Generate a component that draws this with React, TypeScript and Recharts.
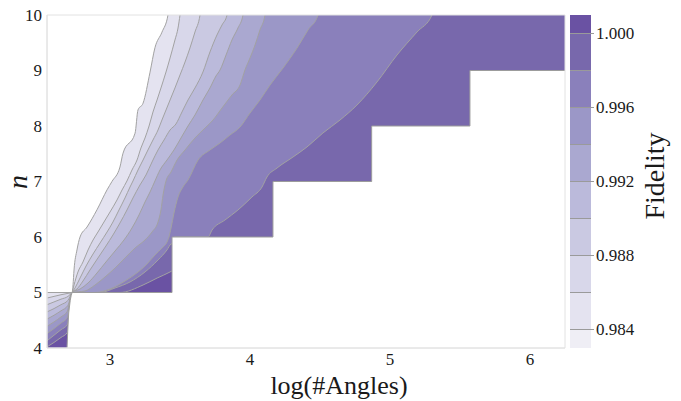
import React from 'react';
import { ComposedChart, Area, XAxis, YAxis, ReferenceArea, ReferenceLine, Label } from 'recharts';

// ---- axes ----
const xDomain: [number, number] = [2.55, 6.25];
const nDomain: [number, number] = [4, 10];
const xTicks = [3, 4, 5, 6];
const nTicks = [4, 5, 6, 7, 8, 9, 10];
const nAbove = 10.4; // contour continues past the top edge

// ---- contour lines  [log(#Angles), n] ----
const c0984: [number, number][] = [[2.55,5.0],[2.729,5.0],[2.736,5.14],[2.743,5.405],[2.764,5.766],[2.786,6.0],[2.836,6.18],[2.907,6.49],[2.979,6.85],[3.014,7.0],[3.071,7.26],[3.093,7.51],[3.179,7.87],[3.2,8.29],[3.236,8.41],[3.286,8.97],[3.321,9.41],[3.371,9.69],[3.414,10.0]];
const c0986: [number, number][] = [[2.55,4.9],[2.6,4.93],[2.65,4.96],[2.7,4.985],[2.729,5.0],[2.743,5.135],[2.771,5.369],[2.807,5.55],[2.843,5.766],[2.879,5.946],[2.914,6.09],[2.957,6.27],[3.0,6.45],[3.05,6.667],[3.086,6.847],[3.121,7.009],[3.157,7.207],[3.193,7.387],[3.221,7.604],[3.25,7.784],[3.279,8.0],[3.307,8.252],[3.336,8.468],[3.364,8.685],[3.4,8.973],[3.429,9.225],[3.464,9.55],[3.486,9.766],[3.5,10.0]];
const c0988: [number, number][] = [[2.55,4.78],[2.6,4.83],[2.65,4.88],[2.7,4.93],[2.729,5.0],[2.75,5.081],[2.786,5.261],[2.829,5.477],[2.879,5.694],[2.929,5.892],[2.979,6.09],[3.021,6.27],[3.064,6.486],[3.107,6.703],[3.143,6.901],[3.164,7.009],[3.2,7.207],[3.236,7.387],[3.271,7.568],[3.307,7.748],[3.343,7.928],[3.371,8.108],[3.4,8.288],[3.429,8.468],[3.464,8.685],[3.5,8.919],[3.536,9.153],[3.571,9.405],[3.607,9.694],[3.643,10.0]];
const c0990: [number, number][] = [[2.55,4.65],[2.6,4.71],[2.65,4.78],[2.7,4.86],[2.729,5.0],[2.764,5.063],[2.807,5.207],[2.857,5.405],[2.914,5.622],[2.971,5.838],[3.021,6.036],[3.071,6.252],[3.121,6.486],[3.164,6.703],[3.214,6.937],[3.257,7.117],[3.3,7.351],[3.343,7.568],[3.386,7.748],[3.429,7.928],[3.471,8.036],[3.514,8.252],[3.557,8.468],[3.607,8.685],[3.664,8.973],[3.714,9.333],[3.764,9.64],[3.8,9.82],[3.836,10.0]];
const c0992: [number, number][] = [[2.55,4.52],[2.6,4.59],[2.65,4.67],[2.7,4.77],[2.729,5.0],[2.786,5.063],[2.843,5.171],[2.907,5.351],[2.971,5.55],[3.036,5.748],[3.1,5.946],[3.157,6.162],[3.207,6.396],[3.25,6.631],[3.286,6.811],[3.321,7.009],[3.357,7.207],[3.407,7.387],[3.457,7.568],[3.507,7.784],[3.557,8.0],[3.607,8.198],[3.664,8.468],[3.714,8.685],[3.757,8.901],[3.786,9.009],[3.829,9.279],[3.871,9.55],[3.914,9.766],[3.95,10.0]];
const c0994: [number, number][] = [[2.55,4.39],[2.6,4.47],[2.65,4.56],[2.695,4.66],[2.729,5.0],[2.821,5.027],[2.893,5.135],[2.964,5.279],[3.036,5.441],[3.107,5.622],[3.179,5.802],[3.25,5.946],[3.3,6.09],[3.343,6.27],[3.364,6.486],[3.379,6.757],[3.4,7.009],[3.436,7.171],[3.479,7.387],[3.536,7.568],[3.607,7.784],[3.679,7.964],[3.736,8.108],[3.8,8.324],[3.871,8.559],[3.929,8.739],[3.964,9.009],[4.0,9.225],[4.036,9.459],[4.071,9.73],[4.107,10.0]];
const c0996: [number, number][] = [[2.55,4.26],[2.6,4.35],[2.65,4.45],[2.695,4.55],[2.729,5.0],[2.893,5.0],[3.0,5.063],[3.107,5.207],[3.2,5.369],[3.257,5.495],[3.321,5.676],[3.371,5.802],[3.407,5.91],[3.421,6.0],[3.436,6.162],[3.457,6.432],[3.486,6.721],[3.521,6.901],[3.557,7.027],[3.629,7.387],[3.714,7.568],[3.786,7.694],[3.857,7.838],[3.929,7.982],[4.0,8.234],[4.071,8.468],[4.143,8.739],[4.236,9.045],[4.336,9.405],[4.414,9.73],[4.486,10.0]];
const c0998: [number, number][] = [[2.55,4.13],[2.6,4.23],[2.65,4.33],[2.695,4.42],[2.729,5.0],[2.929,5.0],[3.036,5.081],[3.143,5.19],[3.25,5.37],[3.343,5.586],[3.407,5.766],[3.436,5.874],[3.443,5.88],[3.46,6.0],[3.7,6.0],[3.729,6.126],[3.821,6.306],[3.914,6.486],[4.014,6.721],[4.086,6.901],[4.121,7.081],[4.193,7.243],[4.307,7.441],[4.407,7.622],[4.521,7.874],[4.643,8.108],[4.764,8.378],[4.907,8.793],[5.05,9.279],[5.193,9.694],[5.3,10.0]];
const c1000: [number, number][] = [[2.55,4.02],[2.6,4.1],[2.65,4.19],[2.695,4.28],[2.729,5.0],[3.071,5.0],[3.236,5.135],[3.336,5.26],[3.429,5.37],[3.443,5.39]];

// edge of the computed region (white below)
const staircase: [number, number][] = [[2.693,4.0],[2.698,4.3],[2.705,4.63],[2.716,4.86],[2.723,4.95],[2.729,5.0],[3.443,5.0],[3.443,6.0],[4.164,6.0],[4.164,7.0],[4.869,7.0],[4.869,8.0],[5.571,8.0],[5.571,9.0],[6.25,9.0]];

// ---- colour levels ----
const levels = [0.984, 0.986, 0.988, 0.990, 0.992, 0.994, 0.996, 0.998, 1.000];
const cbarBounds = [0.983, 0.984, 0.986, 0.988, 0.990, 0.992, 0.994, 0.996, 0.998, 1.000, 1.001];
const cbarColors = ['#efeef5', '#e4e3f0', '#d8d7ea', '#cac9e2', '#bbbadb', '#aaa8d0', '#9b97c7', '#8a80bb', '#7868ac', '#6a52a3'];
const cbarTicks = [0.984, 0.988, 0.992, 0.996, 1.0];

const contours = [c0984, c0986, c0988, c0990, c0992, c0994, c0996, c0998, c1000];
const exitsTop = [true, true, true, true, true, true, true, true, false];

const toRows = (pts: [number, number][], exit: boolean) => {
  const rows = pts.map(([x, n]) => ({ x, n }));
  if (exit) {
    const last = pts[pts.length - 1];
    rows.push({ x: last[0] + 0.02, n: nAbove });
    rows.push({ x: xDomain[1], n: nAbove });
  }
  return rows;
};

const contourRows = contours.map((c, i) => toRows(c, exitsTop[i]));
const stairRows = toRows(staircase, false);

const FONT = "'Liberation Serif', 'DejaVu Serif', serif";
const LINE = '#a2a2a2';
const FRAME = '#e2e2e2';
const TXT = '#1a1a1a';

const XTick = (p: any) => (
  <text x={p.x} y={p.y} dy="0.71em" textAnchor="middle" fontSize={17} fill={TXT} style={{ fontFamily: FONT }}>
    {p.payload.value}
  </text>
);
const YTick = (p: any) => (
  <text x={p.x} y={p.y} dy="0.35em" textAnchor="end" fontSize={17} fill={TXT} style={{ fontFamily: FONT }}>
    {p.payload.value}
  </text>
);
const CTick = (p: any) => (
  <text x={p.x} y={p.y} dy="0.35em" textAnchor="start" fontSize={17} fill={TXT} style={{ fontFamily: FONT }}>
    {Number(p.payload.value).toFixed(3)}
  </text>
);

export default function App() {
  return (
    <div style={{ position: 'absolute', left: 0, top: 0, width: 681, height: 401, background: '#fff' }}>
      <div style={{ position: 'absolute', left: 0, top: 0 }}>
        <ComposedChart width={681} height={401} margin={{ top: 15, right: 116, bottom: 0, left: 0 }}>
          <XAxis
            type="number"
            dataKey="x"
            domain={xDomain}
            allowDataOverflow
            ticks={xTicks}
            interval={0}
            tickLine={false}
            tickSize={3}
            tickMargin={2}
            height={53}
            axisLine={{ stroke: FRAME }}
            tick={XTick}
          >
            <Label
              content={() => (
                <text x={339} y={394} textAnchor="middle" fontSize={26} fill={TXT} style={{ fontFamily: FONT }}>
                  log(#Angles)
                </text>
              )}
            />
          </XAxis>
          <YAxis
            type="number"
            dataKey="n"
            domain={nDomain}
            allowDataOverflow
            ticks={nTicks}
            interval={0}
            tickLine={false}
            tickSize={3}
            tickMargin={2}
            width={47}
            axisLine={{ stroke: FRAME }}
            tick={YTick}
          >
            <Label
              content={() => (
                <text x={27} y={182} transform="rotate(-90 27 182)" textAnchor="middle" fontSize={28} fontStyle="italic" fill={TXT} style={{ fontFamily: FONT }}>
                  n
                </text>
              )}
            />
          </YAxis>

          {contourRows.map((rows, i) => (
            <Area
              key={`band-${levels[i]}`}
              data={rows}
              dataKey="n"
              type="monotoneX"
              baseValue={nDomain[0]}
              fill={cbarColors[i + 1]}
              fillOpacity={1}
              stroke="none"
              isAnimationActive={false}
              dot={false}
              activeDot={false}
            />
          ))}
          {contourRows.map((rows, i) => (
            <Area
              key={`line-${levels[i]}`}
              data={rows}
              dataKey="n"
              type="monotoneX"
              baseValue={nDomain[0]}
              fill="none"
              stroke={LINE}
              strokeWidth={1}
              isAnimationActive={false}
              dot={false}
              activeDot={false}
            />
          ))}
          <Area
            data={stairRows}
            dataKey="n"
            type="linear"
            baseValue={nDomain[0]}
            fill="#ffffff"
            fillOpacity={1}
            stroke="#9c9c9c"
            strokeWidth={1}
            isAnimationActive={false}
            dot={false}
            activeDot={false}
          />
          <ReferenceArea x1={xDomain[0]} x2={xDomain[1]} y1={nDomain[0]} y2={nDomain[1]} fill="none" fillOpacity={0} stroke={FRAME} strokeWidth={1} />
        </ComposedChart>
      </div>

      <div style={{ position: 'absolute', left: 560, top: 0 }}>
        <ComposedChart width={121} height={401} margin={{ top: 15, right: 0, bottom: 53, left: 10 }} data={[{ c: 0 }, { c: 1 }]}>
          <XAxis type="number" dataKey="c" domain={[0, 1]} hide />
          <YAxis
            type="number"
            orientation="right"
            domain={[cbarBounds[0], cbarBounds[cbarBounds.length - 1]]}
            allowDataOverflow
            ticks={cbarTicks}
            interval={0}
            width={90}
            axisLine={false}
            tickLine={{ stroke: '#9a9a9a' }}
            tickSize={3}
            tickMargin={2}
            tick={CTick}
          >
            <Label
              content={() => (
                <text x={104} y={176} transform="rotate(-90 104 176)" textAnchor="middle" fontSize={28} fill={TXT} style={{ fontFamily: FONT }}>
                  Fidelity
                </text>
              )}
            />
          </YAxis>
          {cbarColors.map((col, i) => (
            <ReferenceArea key={`cb-${i}`} x1={0} x2={1} y1={cbarBounds[i]} y2={cbarBounds[i + 1]} fill={col} fillOpacity={1} stroke="none" />
          ))}
          {levels.map((lv) => (
            <ReferenceLine key={`cl-${lv}`} y={lv} stroke="#9a9a9a" strokeWidth={1} />
          ))}
        </ComposedChart>
      </div>
    </div>
  );
}
